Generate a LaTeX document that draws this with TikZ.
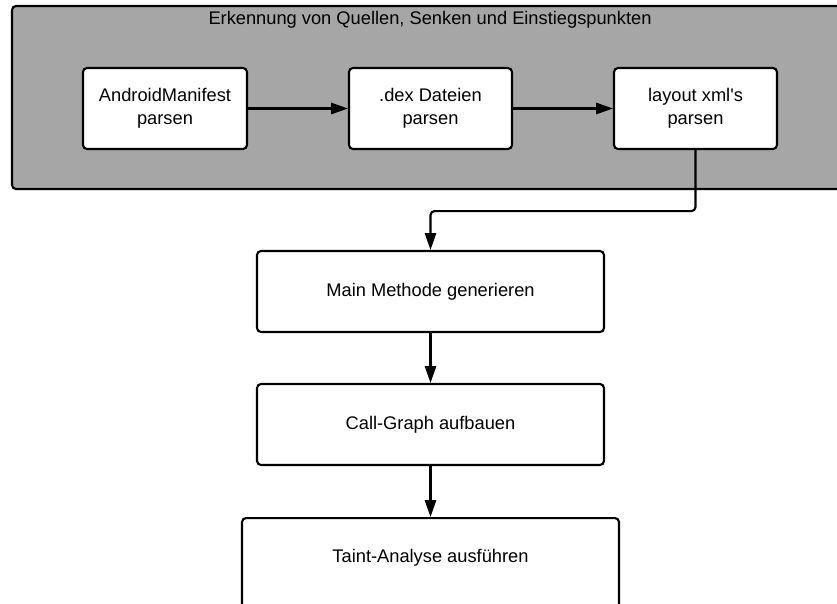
\documentclass[tikz,border=0pt]{standalone}
\usepackage{fontspec}
\setmainfont{Liberation Sans}
\usetikzlibrary{arrows.meta}

\begin{document}
\begin{tikzpicture}[
	box/.style={shape=rectangle, draw=black, fill=white, line width=1.5pt, rounded corners=0.1cm, align=center, minimum height=2.025cm, font=\fontsize{13}{16}\selectfont},
	pfeil/.style={line width=1.5pt, -{Triangle[length=0.42cm, width=0.28cm]}},
	]
	\useasboundingbox (0,0) rectangle (20.925,-15.1);
	
	\draw[fill=black!35, line width=1.5pt, rounded corners=0.1cm] (0.3,-0.15) rectangle (21.8,-4.725);
	\node[font=\fontsize{13}{16}\selectfont] (titel) at (10.75,-0.5) {Erkennung von Quellen, Senken und Einstiegspunkten};
	
	\node[box, minimum width=4.1cm] (manifest) at (4.125, -2.7125)   {AndroidManifest\\parsen};
	\node[box, minimum width=4.075cm] (dex)    at (10.7625, -2.7125) {.dex Dateien\\parsen};
	\node[box, minimum width=4.075cm] (layout) at (17.3875, -2.7125) {layout xml\textquotesingle s\\parsen};
	
	\node[box, minimum width=8.675cm] (main) at (10.7625, -7.2875)  {Main Methode generieren};
	\node[box, minimum width=8.675cm] (call) at (10.7625, -10.6125) {Call-Graph aufbauen};
	\node[box, minimum width=9.425cm, minimum height=3.2cm, anchor=north] (taint) at (10.7625, -12.925) {};
	\node[font=\fontsize{13}{16}\selectfont] (tainttext) at ([yshift=-1.025cm]taint.north) {Taint-Analyse ausführen};
	
	\draw[pfeil] (manifest) -- (dex);
	\draw[pfeil] (dex) -- (layout);
	\draw[pfeil, rounded corners=0.1cm] (layout.south) -- ++(0,-1.525) -| (main.north);
	\draw[pfeil] (main) -- (call);
	\draw[pfeil] (call) -- (taint);
	
\end{tikzpicture}
\end{document}
